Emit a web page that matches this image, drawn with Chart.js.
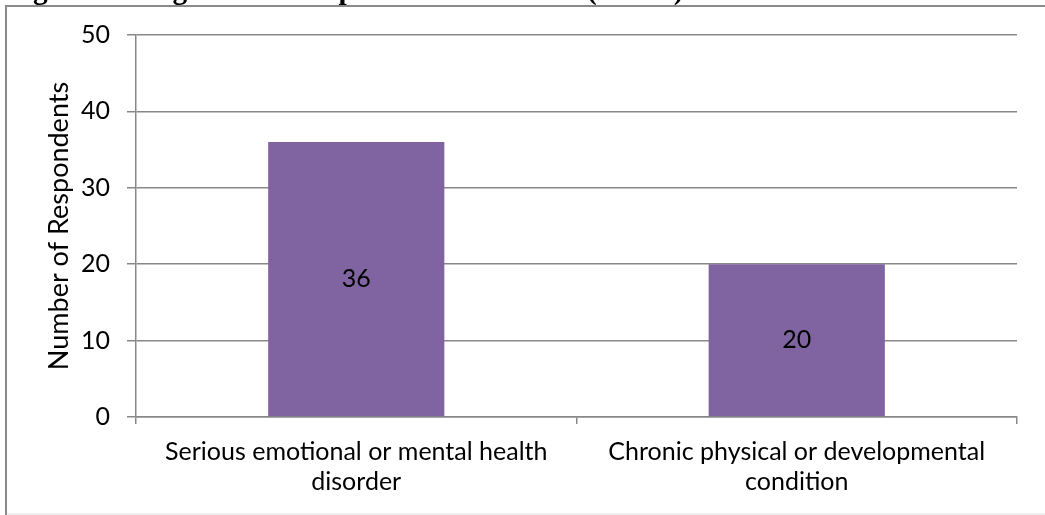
<!DOCTYPE html>
<html>
<head>
<meta charset="utf-8">
<script src="https://cdn.jsdelivr.net/npm/chart.js@4/dist/chart.umd.min.js"></script>
<style>
  html, body { margin: 0; padding: 0; background: #fff; overflow: hidden; }
  #wrap { position: relative; width: 1045px; height: 515px; }
  canvas { position: absolute; left: 0; top: 0; }
</style>
</head>
<body>
<div id="wrap"><canvas id="chart" width="1045" height="515"></canvas></div>
<script>
// Diagnoses reported for respondents' children
const captionText = "Figure 1: Diagnoses of Respondents' Children (n = 56)";
const categories = [
  ['Serious emotional or mental health', 'disorder'],
  ['Chronic physical or developmental', 'condition']
];
const respondents = [36, 20];
const yAxisTitle = 'Number of Respondents';
const yMin = 0;
const yMax = 50;
const yStep = 10;

const FONT = 'Lato, "Open Sans", sans-serif';
const GRID = '#888888';

// Document frame and figure caption around the chart
const framePlugin = {
  id: 'frame',
  beforeDraw(chart) {
    const ctx = chart.ctx;
    ctx.save();
    ctx.setTransform(1, 0, 0, 1, 0, 0);
    ctx.fillStyle = '#fff';
    ctx.fillRect(0, 0, chart.width, chart.height);
    ctx.fillStyle = '#000';
    ctx.font = 'bold 29.3px "Liberation Serif", serif';
    ctx.textAlign = 'left';
    ctx.textBaseline = 'alphabetic';
    ctx.fillText(captionText, 7, -1);
    ctx.fillStyle = '#8a8a8a';
    ctx.fillRect(5, 5, chart.width - 5, 2);
    ctx.fillRect(5, 5, 2, chart.height - 5);
    ctx.fillStyle = '#f0f0f0';
    ctx.fillRect(7, 513, chart.width - 7, 2);
    ctx.restore();
  }
};

// Value printed in the middle of each bar
const barValuePlugin = {
  id: 'barValues',
  afterDatasetsDraw(chart) {
    const ctx = chart.ctx;
    const meta = chart.getDatasetMeta(0);
    ctx.save();
    ctx.fillStyle = '#000';
    ctx.font = '25px ' + FONT;
    ctx.textAlign = 'center';
    ctx.textBaseline = 'middle';
    meta.data.forEach((bar, i) => {
      ctx.fillText(String(respondents[i]), bar.x, (bar.y + bar.base) / 2);
    });
    ctx.restore();
  }
};

new Chart(document.getElementById('chart'), {
  type: 'bar',
  data: {
    labels: categories,
    datasets: [{
      data: respondents,
      backgroundColor: '#8064A2',
      borderWidth: 0,
      categoryPercentage: 1,
      barPercentage: 0.4
    }]
  },
  options: {
    responsive: false,
    animation: false,
    devicePixelRatio: 1,
    layout: { padding: { left: 6, right: 28, top: 35, bottom: 0 } },
    plugins: {
      legend: { display: false },
      tooltip: { enabled: false },
      title: { display: false }
    },
    scales: {
      x: {
        offset: true,
        grid: {
          offset: true,
          drawOnChartArea: false,
          drawTicks: true,
          tickLength: 7,
          color: GRID,
          lineWidth: 1.5
        },
        border: { display: true, color: GRID, width: 1.5 },
        ticks: {
          color: '#000',
          font: { family: FONT, size: 25, lineHeight: 1.2 },
          padding: 13,
          maxRotation: 0,
          autoSkip: false
        },
        afterFit(scale) { scale.height = 98; }
      },
      y: {
        min: yMin,
        max: yMax,
        grid: {
          color: GRID,
          lineWidth: 1.5,
          drawTicks: true,
          tickLength: 9
        },
        border: { display: true, color: GRID, width: 1.5 },
        ticks: {
          stepSize: yStep,
          color: '#000',
          font: { family: FONT, size: 25 },
          padding: 17
        },
        title: {
          display: true,
          text: yAxisTitle,
          color: '#000',
          font: { family: FONT, size: 27, lineHeight: 1.2 },
          padding: { top: 37, bottom: 0 }
        },
        afterFit(scale) { scale.width = 130; }
      }
    }
  },
  plugins: [framePlugin, barValuePlugin]
});
</script>
</body>
</html>
